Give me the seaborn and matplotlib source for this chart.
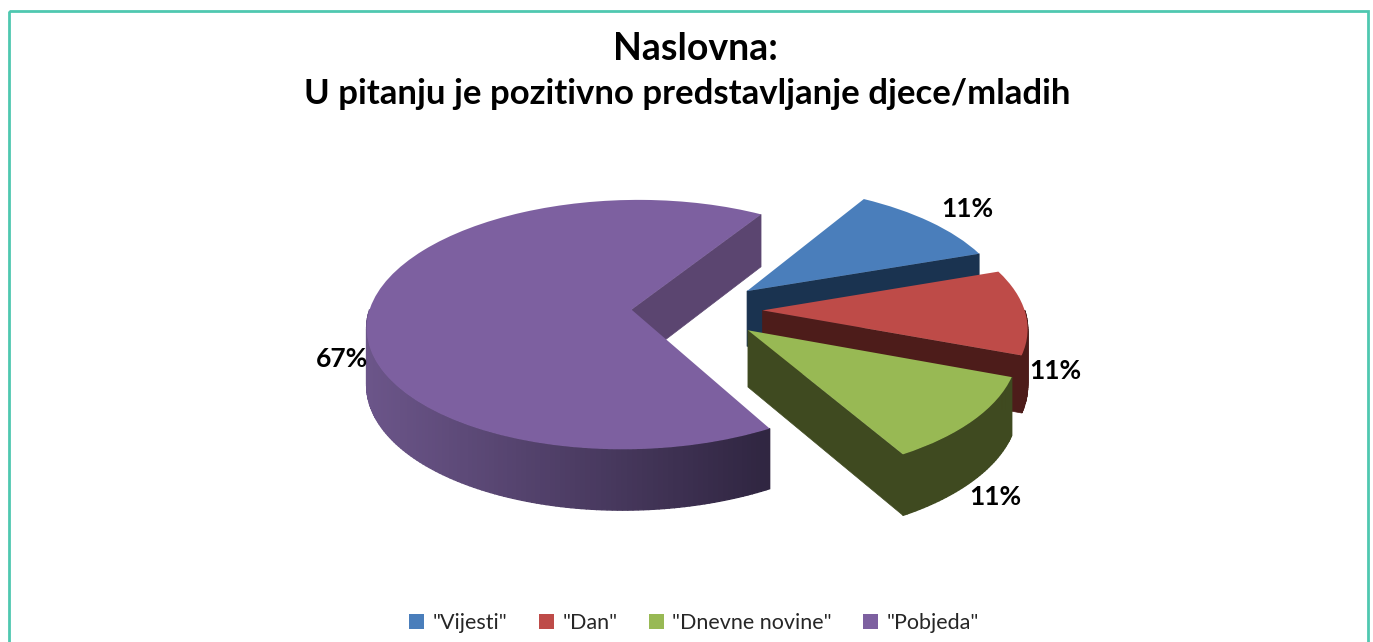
import numpy as np
import seaborn as sns
import matplotlib
matplotlib.use('Agg')
import matplotlib.pyplot as plt
from matplotlib.colors import to_rgb
from matplotlib.patches import Rectangle
from matplotlib.transforms import Transform

sns.set_style('white')
plt.rcParams['font.family'] = ['Lato', 'DejaVu Sans']

# data
papers = ['"Vijesti"', '"Dan"', '"Dnevne novine"', '"Pobjeda"']
shares = [11, 11, 11, 67]
title_lines = ['Naslovna:', 'U pitanju je pozitivno predstavljanje djece/mladih']

top_colors = sns.color_palette(['#4a7ebb', '#be4b48', '#98b954', '#7d60a0'])
wall_colors = ['#1a3350', '#4d1c1a', '#3f4a20', '#5b4570']

# projection of the pie plane to pixels
CX, CY, RX, RY, K = 697, 310, 262, 123, 0.12
DEPTH, DEPTH_K = 56, 0.08


def project(u, v, z=0.0):
    u, v = np.asarray(u, float), np.asarray(v, float)
    s = 1 / (1 + K * v)
    return CX + RX * u * s, CY - RY * v * s + z * DEPTH / (1 + DEPTH_K * v)


class PiePlane(Transform):
    input_dims = output_dims = 2

    def transform_non_affine(self, values):
        x, y = project(values[:, 0], values[:, 1])
        return np.column_stack([x, y])


def polar(w, deg):
    a = np.radians(deg)
    return w.center[0] + w.r * np.cos(a), w.center[1] + w.r * np.sin(a)


def draw_wall(ax, w, deg, color, z):
    # flat cut side of a slice, from the apex out to the rim
    u, v = polar(w, deg)
    x0, y0 = project(w.center[0], w.center[1])
    x1, y1 = project(u, v)
    x2, y2 = project(u, v, 1)
    x3, y3 = project(w.center[0], w.center[1], 1)
    ax.fill([x0, x1, x2, x3], [y0, y1, y2, y3], color=color, lw=0.5, zorder=z)


def draw_rim(ax, w, deg1, deg2, colorfn, z):
    # rounded outer side, short strips so the purple one can shade across
    angles = np.arange(deg1, deg2, 1.0)
    for a in angles:
        u1, v1 = polar(w, a)
        u2, v2 = polar(w, min(a + 1, deg2))
        xa, ya = project(u1, v1)
        xb, yb = project(u2, v2)
        xc, yc = project(u2, v2, 1)
        xd, yd = project(u1, v1, 1)
        ax.fill([xa, xb, xc, xd], [ya, yb, yc, yd], color=colorfn(xa), lw=1.0, zorder=z)


def purple_shade(x):
    t = np.clip((x - 370) / 400, 0, 1)
    a, b = np.array(to_rgb('#6b5589')), np.array(to_rgb('#2f2540'))
    return tuple(a + (b - a) * t)


fig = plt.figure(figsize=(13.73, 6.42), dpi=100)
ax = fig.add_axes([0, 0, 1, 1])

wedges, _ = ax.pie(shares, colors=top_colors, startangle=58.7, counterclock=False,
                   explode=[0.25] * 4, radius=1, wedgeprops={'linewidth': 0})
ax.set_aspect('auto')
ax.set_xlim(0, 1373)
ax.set_ylim(642, 0)
ax.axis('off')

plane = PiePlane() + ax.transData
blue, red, green, purple = wedges

# back to front
draw_wall(ax, purple, purple.theta1, wall_colors[3], 2)
draw_rim(ax, purple, -180, purple.theta2, purple_shade, 3)
purple.set_transform(plane)
purple.set_zorder(4)

draw_wall(ax, blue, blue.theta1, wall_colors[0], 5)
blue.set_transform(plane)
blue.set_zorder(6)

# only the front part of the red rim shows
draw_rim(ax, red, red.theta1, 0, lambda x: wall_colors[1], 7)
draw_wall(ax, red, red.theta1, wall_colors[1], 7)
red.set_transform(plane)
red.set_zorder(8)

draw_rim(ax, green, green.theta1, green.theta2, lambda x: wall_colors[2], 9)
draw_wall(ax, green, green.theta1, wall_colors[2], 9)
green.set_transform(plane)
green.set_zorder(10)

# labels
label_xy = [(967, 209), (1055, 371), (995, 497), (342, 359)]
for val, (lx, ly) in zip(shares, label_xy):
    ax.text(lx, ly, '%d%%' % val, ha='center', va='center', fontsize=19,
            fontweight='bold', color='black', zorder=12)

ax.text(695, 49, title_lines[0], ha='center', va='center', fontsize=27,
        fontweight='bold', color='black')
ax.text(687, 94, title_lines[1], ha='center', va='center', fontsize=25,
        fontweight='bold', color='black')

# frame, its bottom edge runs off the picture
ax.add_patch(Rectangle((9, 11), 1359, 660, fill=False, ec='#4fc8b0', lw=2, zorder=1))

ax.legend(wedges, papers, loc='center', bbox_to_anchor=(694 / 1373, 1 - 623 / 642),
          ncol=4, frameon=False, fontsize=15.5, handlelength=0.7, handleheight=0.7,
          handletextpad=0.4, columnspacing=1.45, borderpad=0)

fig.savefig('out.png', dpi=100)
